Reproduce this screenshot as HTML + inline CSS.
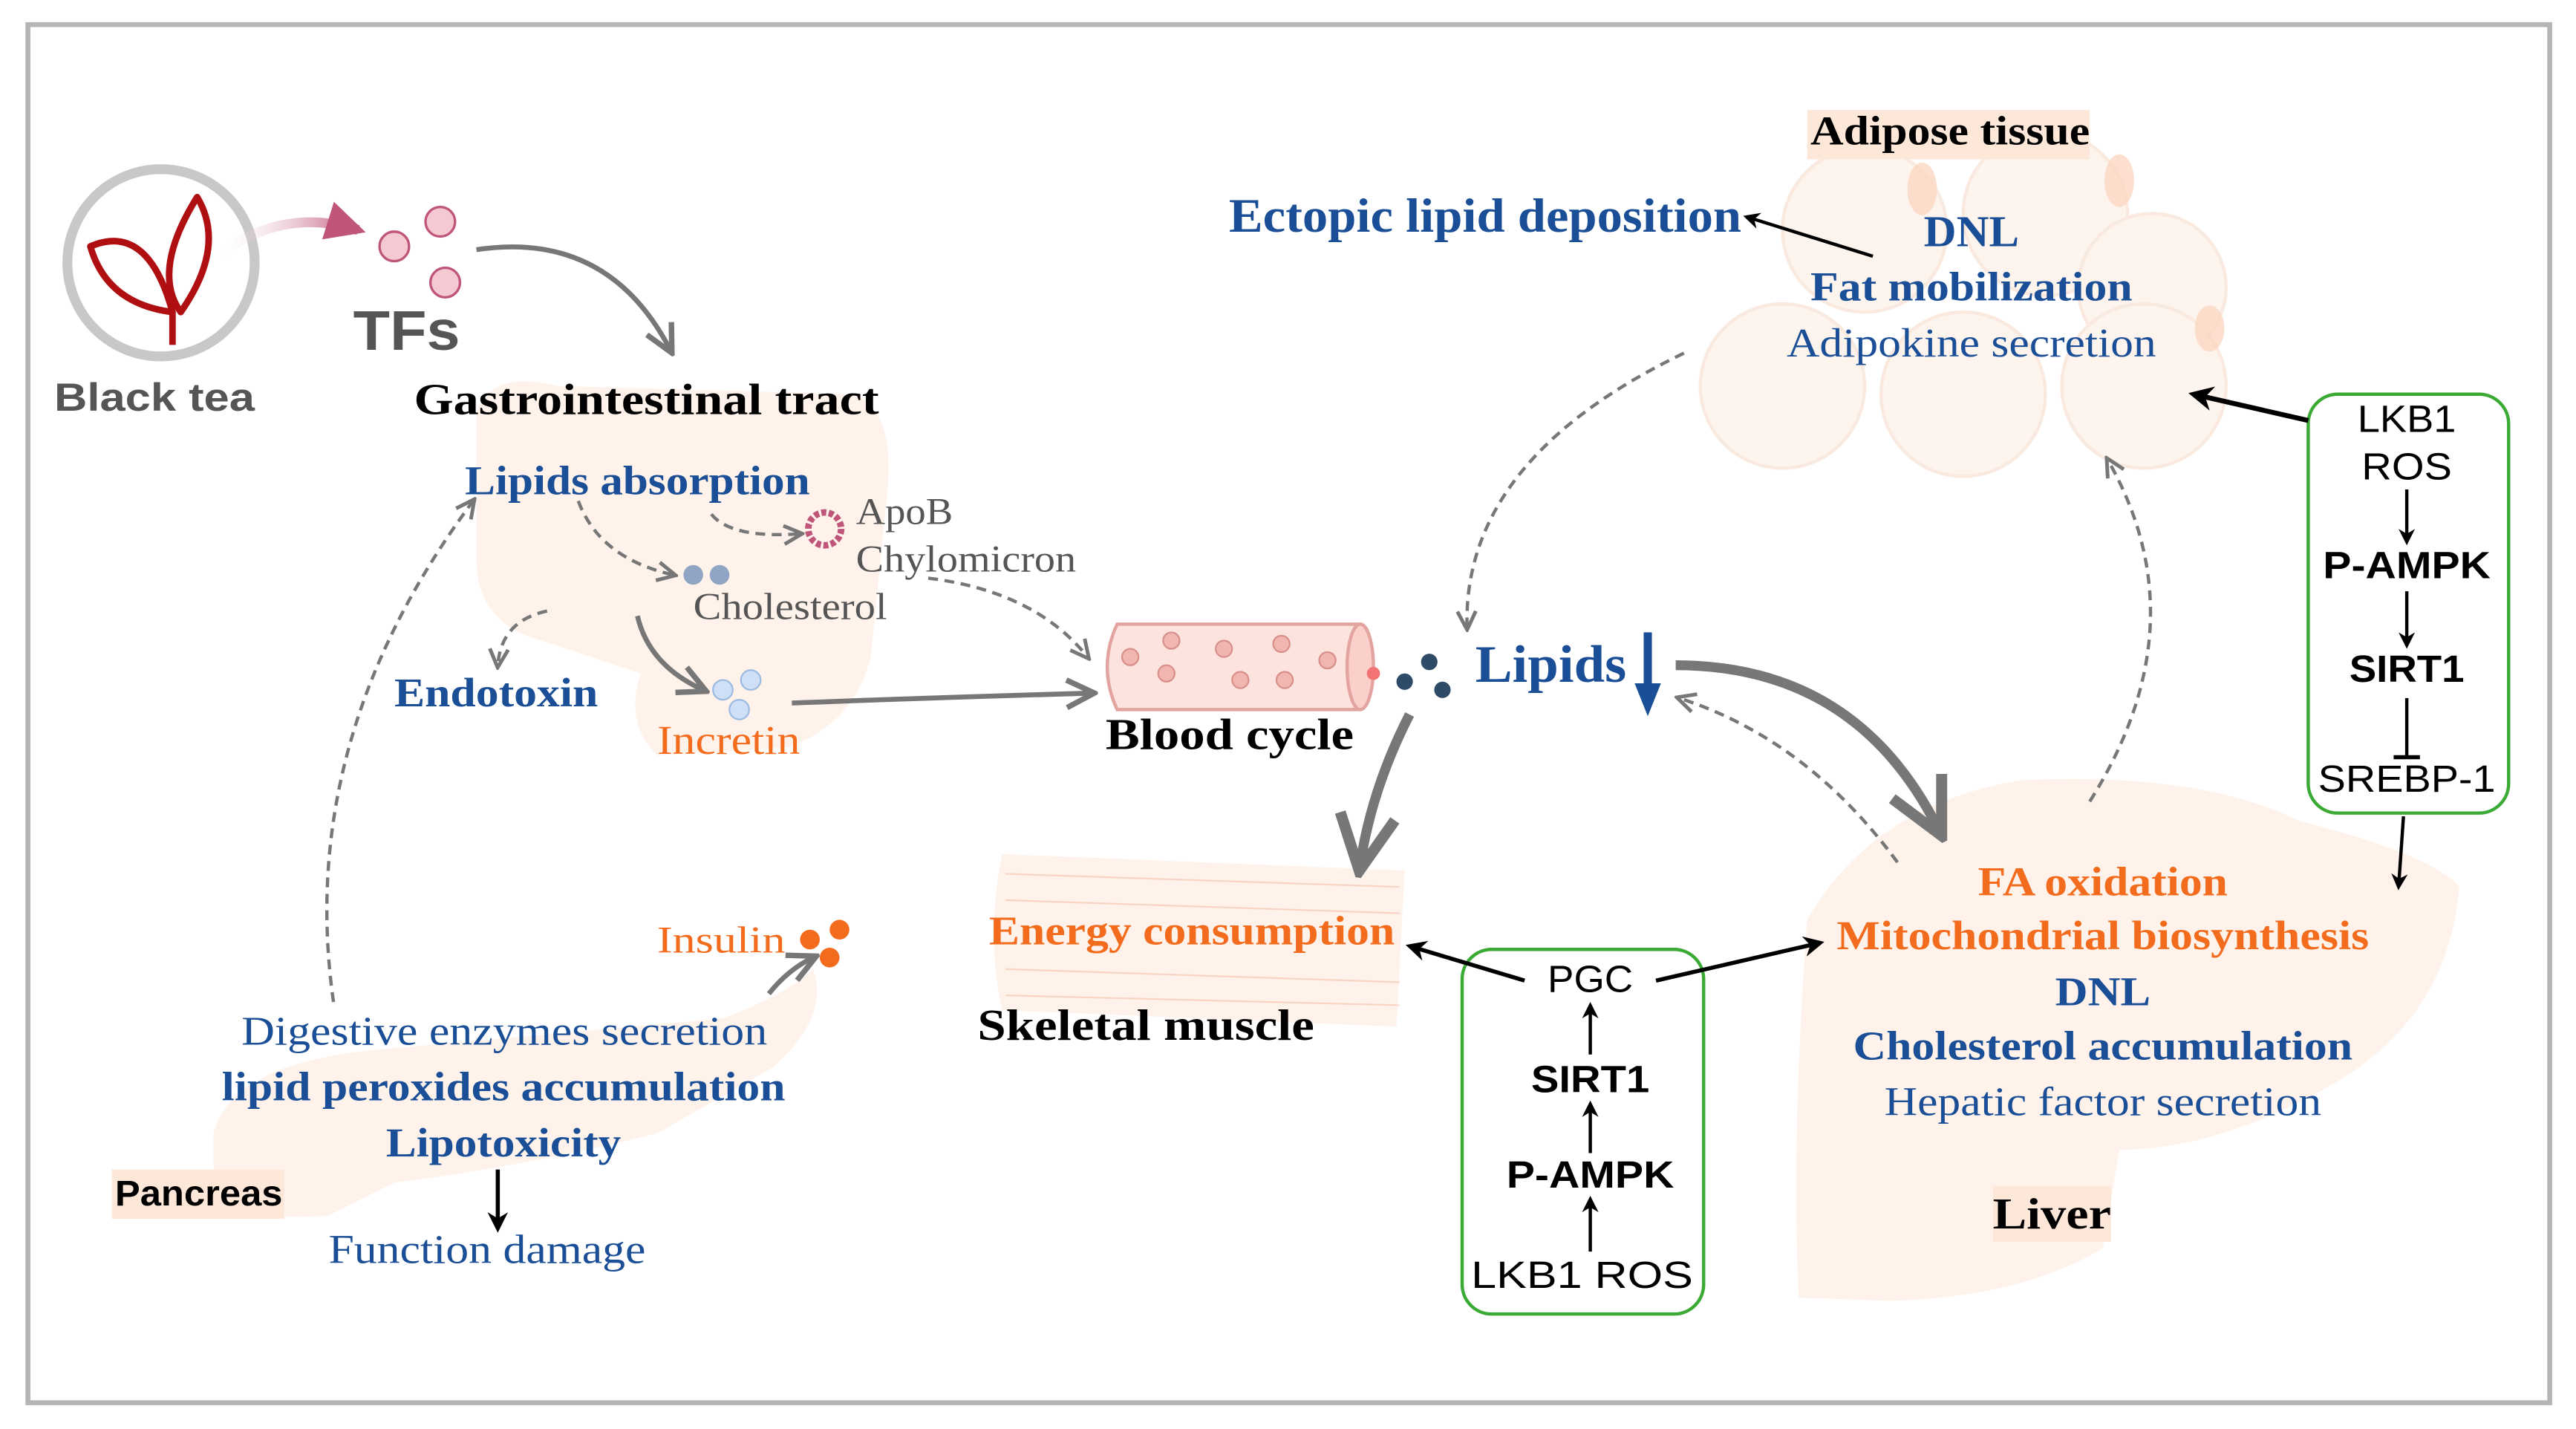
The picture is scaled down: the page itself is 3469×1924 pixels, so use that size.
<!DOCTYPE html>
<html><head><meta charset="utf-8"><style>
html,body{margin:0;padding:0;background:#fff;}
svg{display:block;}
.s{font-family:"Liberation Serif",serif;}
.a{font-family:"Liberation Sans",sans-serif;}
.b{fill:#1a4e96;}
.o{fill:#f36b1c;}
</style></head><body>
<svg width="3469" height="1924" viewBox="0 0 1568 870" preserveAspectRatio="none" xmlns="http://www.w3.org/2000/svg">
<defs>
<marker id="ag" viewBox="0 0 10 10" refX="8" refY="5" markerWidth="5" markerHeight="5" orient="auto"><path d="M0,0 L10,5 L0,10 L3,5 z" fill="#777"/></marker>
<marker id="agl" viewBox="0 0 10 10" refX="8" refY="5" markerWidth="7" markerHeight="7" orient="auto"><path d="M1,1 L9,5 L1,9" fill="none" stroke="#777" stroke-width="1.6"/></marker>
<marker id="ak" viewBox="0 0 10 10" refX="8" refY="5" markerWidth="5" markerHeight="5" orient="auto"><path d="M0,0 L10,5 L0,10 L3,5 z" fill="#000"/></marker>
<marker id="ap" viewBox="0 0 10 10" refX="8" refY="5" markerWidth="4" markerHeight="4" orient="auto"><path d="M0,0 L10,5 L0,10 z" fill="#c0557a"/></marker>
<linearGradient id="pg" x1="0" x2="1"><stop offset="0" stop-color="#fff" stop-opacity="0"/><stop offset="1" stop-color="#c0557a"/></linearGradient>
</defs>
<rect x="17" y="15" width="1535" height="839" fill="#fff" stroke="#b5b5b5" stroke-width="3"/>

<!-- background organ shapes -->
<g fill="#fde7d9" opacity="0.55">
<path d="M290,250 Q300,225 340,235 L520,240 Q545,250 540,300 L530,400 Q520,440 480,455 L400,460 Q380,440 390,410 L330,390 Q290,380 290,340 Z"/>
<path d="M130,690 Q140,650 220,640 L440,620 Q480,605 495,590 Q505,620 470,650 L400,690 Q320,710 240,720 L200,740 Q140,745 130,720 Z"/>
<path d="M610,520 L855,530 L850,625 L610,615 Q600,570 610,520 Z"/>
<path d="M1100,560 Q1140,490 1230,475 Q1340,470 1400,500 Q1480,520 1497,540 Q1490,620 1420,660 Q1350,700 1290,700 L1280,760 Q1230,790 1150,792 L1095,790 Q1090,700 1100,560 Z"/>
</g>
<g fill="#fdeee4" stroke="#f8dccb" stroke-width="2" opacity="0.6">
<circle cx="1135" cy="140" r="50"/><circle cx="1245" cy="130" r="50"/><circle cx="1310" cy="175" r="45"/>
<circle cx="1085" cy="235" r="50"/><circle cx="1195" cy="240" r="50"/><circle cx="1305" cy="235" r="50"/>
</g>
<g fill="#fbd7c2" opacity="0.8"><ellipse cx="1170" cy="115" rx="9" ry="16"/><ellipse cx="1290" cy="110" rx="9" ry="16"/><ellipse cx="1345" cy="200" rx="9" ry="14"/></g>
<rect x="1100" y="67" width="172" height="30" fill="#fde7d9"/>
<rect x="1213" y="722" width="72" height="34" fill="#fde7d9"/>
<rect x="68" y="712" width="105" height="30" fill="#fde7d9"/>
<g stroke="#f4b8a0" stroke-width="1" opacity="0.5">
<line x1="612" y1="532" x2="852" y2="540"/><line x1="612" y1="548" x2="852" y2="556"/><line x1="612" y1="590" x2="852" y2="598"/><line x1="612" y1="606" x2="852" y2="612"/>
</g>

<!-- black tea -->
<circle cx="98" cy="160" r="57" fill="#fff" stroke="#c8c8c8" stroke-width="6"/>
<g fill="none" stroke="#b00f12" stroke-width="4" stroke-linejoin="round">
<path d="M120,120 Q138,150 110,190 Q92,165 120,120 Z"/>
<path d="M55,150 Q90,135 105,190 Q65,185 55,150 Z"/>
<path d="M105,190 L105,210"/>
</g>
<text x="33" y="250" class="a" font-weight="bold" font-size="24" fill="#555" textLength="122" lengthAdjust="spacingAndGlyphs">Black tea</text>
<path d="M130,158 Q170,125 218,140" fill="none" stroke="url(#pg)" stroke-width="6" marker-end="url(#ap)"/>
<g fill="#f5c9d2" stroke="#c0557a" stroke-width="1.5"><circle cx="240" cy="150" r="9"/><circle cx="268" cy="135" r="9"/><circle cx="271" cy="172" r="9"/></g>
<text x="215" y="213" class="a" font-weight="bold" font-size="34" fill="#555" textLength="65" lengthAdjust="spacingAndGlyphs">TFs</text>
<path d="M290,152 Q370,140 408,213" fill="none" stroke="#777" stroke-width="3" marker-end="url(#agl)"/>

<text x="252" y="252" class="s" font-weight="bold" font-size="27" textLength="283" lengthAdjust="spacingAndGlyphs">Gastrointestinal tract</text>
<text x="283" y="301" class="s b" font-weight="bold" font-size="25" textLength="210" lengthAdjust="spacingAndGlyphs">Lipids absorption</text>
<circle cx="502" cy="322" r="10" fill="none" stroke="#c0557a" stroke-width="4" stroke-dasharray="3 1.5"/>
<text x="521" y="319" class="s" font-size="23" fill="#555" textLength="59" lengthAdjust="spacingAndGlyphs">ApoB</text>
<text x="521" y="348" class="s" font-size="23" fill="#555" textLength="134" lengthAdjust="spacingAndGlyphs">Chylomicron</text>
<circle cx="422" cy="350" r="6" fill="#8fa5c3"/><circle cx="438" cy="350" r="6" fill="#8fa5c3"/>
<text x="422" y="377" class="s" font-size="23" fill="#555" textLength="118" lengthAdjust="spacingAndGlyphs">Cholesterol</text>
<text x="240" y="430" class="s b" font-weight="bold" font-size="25" textLength="124" lengthAdjust="spacingAndGlyphs">Endotoxin</text>
<g fill="#cfe0f6" stroke="#9bbbe3"><circle cx="440" cy="420" r="6"/><circle cx="457" cy="414" r="6"/><circle cx="450" cy="432" r="6"/></g>
<text x="400" y="459" class="s o" font-size="25" textLength="87" lengthAdjust="spacingAndGlyphs">Incretin</text>

<g fill="none" stroke="#777" stroke-width="2" stroke-dasharray="6 4" marker-end="url(#agl)">
<path d="M352,305 Q365,340 410,350"/>
<path d="M433,313 Q445,328 487,325"/>
<path d="M333,372 Q305,378 303,405"/>
<path d="M565,352 Q630,360 662,400"/>
<path d="M203,610 Q180,450 288,305"/>
<path d="M1025,215 Q890,280 893,382"/>
<path d="M1272,488 Q1340,380 1283,280"/>
<path d="M1155,525 Q1100,450 1022,425"/>
</g>
<g fill="none" stroke="#777" stroke-width="3" marker-end="url(#agl)">
<path d="M388,375 Q395,405 428,420"/>
<path d="M482,428 Q560,425 664,422"/>
</g>
<path d="M858,435 Q835,480 828,526" fill="none" stroke="#777" stroke-width="6" marker-end="url(#agl)"/>
<path d="M1020,405 Q1130,405 1180,505" fill="none" stroke="#777" stroke-width="6" marker-end="url(#agl)"/>

<!-- blood vessel -->
<path d="M680,380 L828,380 Q840,406 828,432 L680,432 Q668,406 680,380 Z" fill="#fde3de" stroke="#e3a4a0" stroke-width="2"/>
<ellipse cx="828" cy="406" rx="8" ry="26" fill="#fbd0ca" stroke="#e3a4a0" stroke-width="2"/>
<g fill="#f1b6b0" stroke="#d88f8a"><circle cx="688" cy="400" r="5"/><circle cx="713" cy="390" r="5"/><circle cx="710" cy="410" r="5"/><circle cx="745" cy="395" r="5"/><circle cx="755" cy="414" r="5"/><circle cx="780" cy="392" r="5"/><circle cx="782" cy="414" r="5"/><circle cx="808" cy="402" r="5"/></g>
<circle cx="836" cy="410" r="4" fill="#f27373"/>
<text x="673" y="456" class="s" font-weight="bold" font-size="27" textLength="151" lengthAdjust="spacingAndGlyphs">Blood cycle</text>
<g fill="#2e4a66"><circle cx="855" cy="415" r="5"/><circle cx="870" cy="403" r="5"/><circle cx="878" cy="420" r="5"/></g>
<text x="898" y="415" class="s b" font-weight="bold" font-size="32" textLength="92" lengthAdjust="spacingAndGlyphs">Lipids</text>
<path d="M1003,385 L1003,420" stroke="#1a4e96" stroke-width="5"/>
<path d="M995,416 L1011,416 L1003,436 Z" fill="#1a4e96"/>

<!-- adipose -->
<text x="1102" y="88" class="s" font-weight="bold" font-size="25" textLength="170" lengthAdjust="spacingAndGlyphs">Adipose tissue</text>
<text x="748" y="141" class="s b" font-weight="bold" font-size="29" textLength="312" lengthAdjust="spacingAndGlyphs">Ectopic lipid deposition</text>
<line x1="1140" y1="156" x2="1063" y2="132" stroke="#000" stroke-width="2" marker-end="url(#ak)"/>
<text x="1200" y="150" class="s b" font-weight="bold" font-size="27" text-anchor="middle" textLength="58" lengthAdjust="spacingAndGlyphs">DNL</text>
<text x="1200" y="183" class="s b" font-weight="bold" font-size="25" text-anchor="middle" textLength="196" lengthAdjust="spacingAndGlyphs">Fat mobilization</text>
<text x="1200" y="217" class="s b" font-size="25" text-anchor="middle" textLength="225" lengthAdjust="spacingAndGlyphs">Adipokine secretion</text>

<!-- right green box -->
<rect x="1405" y="240" width="122" height="255" rx="18" fill="#fff" stroke="#3aaa35" stroke-width="2"/>
<g class="a" font-size="23" text-anchor="middle">
<text x="1465" y="263" textLength="60" lengthAdjust="spacingAndGlyphs">LKB1</text><text x="1465" y="292" textLength="55" lengthAdjust="spacingAndGlyphs">ROS</text>
<text x="1465" y="352" font-weight="bold" textLength="102" lengthAdjust="spacingAndGlyphs">P-AMPK</text>
<text x="1465" y="415" font-weight="bold" textLength="70" lengthAdjust="spacingAndGlyphs">SIRT1</text>
<text x="1465" y="482" textLength="108" lengthAdjust="spacingAndGlyphs">SREBP-1</text>
</g>
<line x1="1465" y1="298" x2="1465" y2="330" stroke="#000" stroke-width="2" marker-end="url(#ak)"/>
<line x1="1465" y1="360" x2="1465" y2="393" stroke="#000" stroke-width="2" marker-end="url(#ak)"/>
<line x1="1465" y1="425" x2="1465" y2="461" stroke="#000" stroke-width="2"/>
<line x1="1457" y1="461" x2="1473" y2="461" stroke="#000" stroke-width="2.5"/>
<line x1="1405" y1="256" x2="1335" y2="240" stroke="#000" stroke-width="3" marker-end="url(#ak)"/>
<line x1="1463" y1="497" x2="1460" y2="540" stroke="#000" stroke-width="2" marker-end="url(#ak)"/>

<!-- liver -->
<g class="s" font-weight="bold" font-size="25" text-anchor="middle">
<text x="1280" y="545" class="o" textLength="152" lengthAdjust="spacingAndGlyphs">FA oxidation</text>
<text x="1280" y="578" class="o" textLength="324" lengthAdjust="spacingAndGlyphs">Mitochondrial biosynthesis</text>
<text x="1280" y="612" class="b" textLength="58" lengthAdjust="spacingAndGlyphs">DNL</text>
<text x="1280" y="645" class="b" textLength="304" lengthAdjust="spacingAndGlyphs">Cholesterol accumulation</text>
<text x="1280" y="679" class="b" font-weight="normal" textLength="266" lengthAdjust="spacingAndGlyphs">Hepatic factor secretion</text>
</g>
<text x="1213" y="748" class="s" font-weight="bold" font-size="27" textLength="72" lengthAdjust="spacingAndGlyphs">Liver</text>

<!-- muscle -->
<text x="602" y="575" class="s o" font-weight="bold" font-size="25" textLength="247" lengthAdjust="spacingAndGlyphs">Energy consumption</text>
<text x="595" y="633" class="s" font-weight="bold" font-size="27" textLength="205" lengthAdjust="spacingAndGlyphs">Skeletal muscle</text>

<!-- middle green box -->
<rect x="890" y="578" width="147" height="222" rx="18" fill="#fff" stroke="#3aaa35" stroke-width="2"/>
<g class="a" font-size="23" text-anchor="middle">
<text x="968" y="604" textLength="52" lengthAdjust="spacingAndGlyphs">PGC</text>
<text x="968" y="665" font-weight="bold" textLength="72" lengthAdjust="spacingAndGlyphs">SIRT1</text>
<text x="968" y="723" font-weight="bold" textLength="102" lengthAdjust="spacingAndGlyphs">P-AMPK</text>
<text x="963" y="784" textLength="135" lengthAdjust="spacingAndGlyphs">LKB1  ROS</text>
</g>
<line x1="968" y1="642" x2="968" y2="612" stroke="#000" stroke-width="2" marker-end="url(#ak)"/>
<line x1="968" y1="702" x2="968" y2="672" stroke="#000" stroke-width="2" marker-end="url(#ak)"/>
<line x1="968" y1="762" x2="968" y2="730" stroke="#000" stroke-width="2" marker-end="url(#ak)"/>
<line x1="928" y1="597" x2="858" y2="576" stroke="#000" stroke-width="2.5" marker-end="url(#ak)"/>
<line x1="1008" y1="597" x2="1108" y2="574" stroke="#000" stroke-width="2.5" marker-end="url(#ak)"/>

<!-- pancreas -->
<text x="400" y="580" class="s o" font-size="23" textLength="78" lengthAdjust="spacingAndGlyphs">Insulin</text>
<g fill="#f36b1c"><circle cx="493" cy="572" r="6"/><circle cx="511" cy="566" r="6"/><circle cx="505" cy="583" r="6"/></g>
<path d="M468,605 Q480,590 495,583" fill="none" stroke="#777" stroke-width="3" marker-end="url(#agl)"/>
<text x="147" y="636" class="s b" font-size="25" textLength="320" lengthAdjust="spacingAndGlyphs">Digestive enzymes secretion</text>
<text x="135" y="670" class="s b" font-weight="bold" font-size="25" textLength="343" lengthAdjust="spacingAndGlyphs">lipid peroxides accumulation</text>
<text x="235" y="704" class="s b" font-weight="bold" font-size="25" textLength="143" lengthAdjust="spacingAndGlyphs">Lipotoxicity</text>
<text x="70" y="734" class="a" font-weight="bold" font-size="22" textLength="102" lengthAdjust="spacingAndGlyphs">Pancreas</text>
<line x1="303" y1="712" x2="303" y2="748" stroke="#000" stroke-width="2.5" marker-end="url(#ak)"/>
<text x="200" y="769" class="s b" font-size="25" textLength="193" lengthAdjust="spacingAndGlyphs">Function damage</text>
</svg>
</body></html>
